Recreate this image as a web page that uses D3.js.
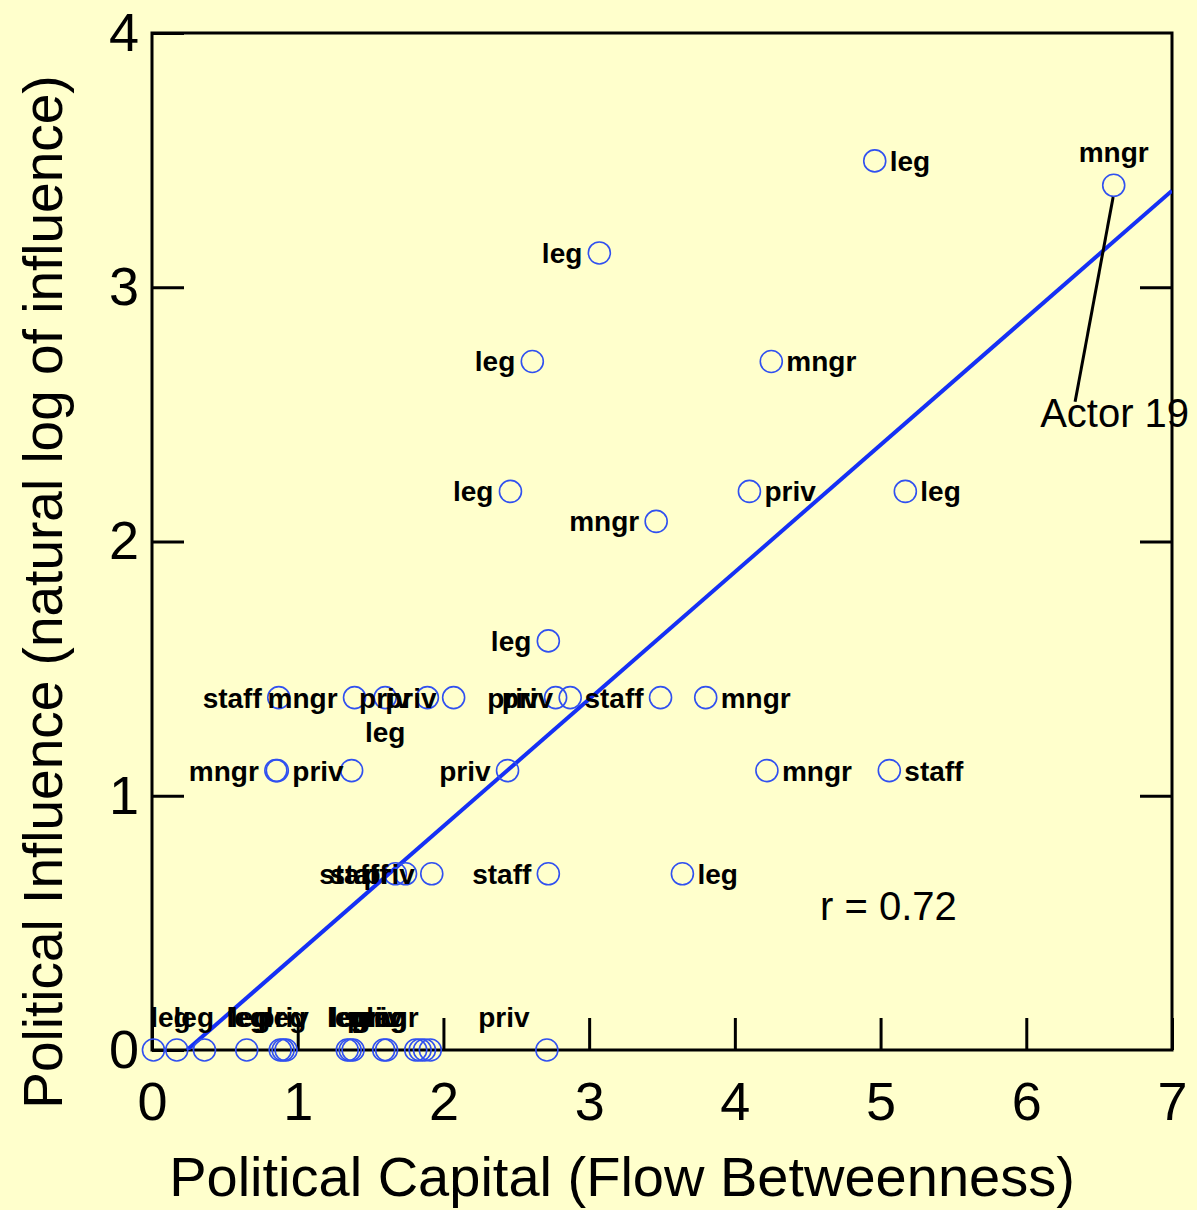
<!DOCTYPE html>
<html>
<head>
<meta charset="utf-8">
<script src="https://cdn.jsdelivr.net/npm/d3@7"></script>
<style>
  body { margin: 0; background: #ffffcc; }
  svg { display: block; font-family: "Liberation Sans", Arial, sans-serif; }
</style>
</head>
<body>
<svg id="chart"></svg>
<script>
var xTicks = [0, 1, 2, 3, 4, 5, 6, 7];
var yTicks = [0, 1, 2, 3, 4];

// betweenness, ln(influence), role, label side
var capital   = [4.96, 6.60, 3.07, 2.61, 4.25, 2.46, 4.10, 5.17, 3.46, 2.72,
                 0.87, 1.39, 1.60, 1.89, 2.07, 2.77, 2.87, 3.49, 3.80,
                 0.85, 0.86, 1.37, 2.44, 4.22, 5.06,
                 1.67, 1.74, 1.92, 2.72, 3.64,
                 0.01, 0.17, 0.36, 0.65, 0.88, 0.90, 0.92, 1.34, 1.36, 1.38,
                 1.59, 1.61, 1.81, 1.84, 1.87, 1.91, 2.71];
var influence = [3.497, 3.401, 3.135, 2.708, 2.708, 2.197, 2.197, 2.197, 2.079, 1.609,
                 1.386, 1.386, 1.386, 1.386, 1.386, 1.386, 1.386, 1.386, 1.386,
                 1.099, 1.099, 1.099, 1.099, 1.099, 1.099,
                 0.693, 0.693, 0.693, 0.693, 0.693,
                 0, 0, 0, 0, 0, 0, 0, 0, 0, 0,
                 0, 0, 0, 0, 0, 0, 0];
var role      = ["leg", "mngr", "leg", "leg", "mngr", "leg", "priv", "leg", "mngr", "leg",
                 "staff", "mngr", "leg", "priv", "priv", "priv", "priv", "staff", "mngr",
                 "mngr", "priv", "priv", "priv", "mngr", "staff",
                 "staff", "staff", "priv", "staff", "leg",
                 "leg", "leg", "leg", "leg", "leg", "priv", "leg", "leg", "leg", "staff",
                 "mngr", "leg", "priv", "priv", "leg", "leg", "priv"];
var side      = ["R", "T", "L", "L", "R", "L", "R", "R", "L", "L",
                 "L", "L", "B", "L", "L", "L", "L", "L", "R",
                 "L", "R", "", "L", "R", "R",
                 "L", "L", "L", "L", "R",
                 "TR", "TR", "", "T", "TL2", "T", "T", "T", "T", "",
                 "T", "T", "TL", "TL", "", "", "TL"];

var fitLine = [[0.24, 0], [7, 3.38]];
var rText = "r = 0.72";
var rPos = [4.585, 0.51];
var actorText = "Actor 19";
var actorPos = [6.095, 2.45];
var actorLeader = [[6.596, 3.355], [6.335, 2.55]];

var W = 1197, H = 1210;
var m = { left: 152, right: 25, top: 33, bottom: 160 };

var svg = d3.select("#chart").attr("width", W).attr("height", H);
svg.append("rect").attr("width", W).attr("height", H).attr("fill", "#ffffcc");

var x = d3.scaleLinear().domain([0, 7]).range([m.left, W - m.right]);
var y = d3.scaleLinear().domain([0, 4]).range([H - m.bottom, m.top]);

// Axes (inward ticks)
var gX = svg.append("g")
    .attr("transform", "translate(0," + y(0) + ")")
    .call(d3.axisBottom(x).tickValues(xTicks).tickSize(-32).tickPadding(32).tickFormat(d3.format("d")));
var gY = svg.append("g")
    .attr("transform", "translate(" + x(0) + ",0)")
    .call(d3.axisLeft(y).tickValues(yTicks).tickSize(-32).tickPadding(13).tickFormat(d3.format("d")));
var gR = svg.append("g")
    .attr("transform", "translate(" + x(7) + ",0)")
    .call(d3.axisRight(y).tickValues([1, 2, 3]).tickSize(-32).tickFormat(""));

[gX, gY, gR].forEach(function (g) {
    g.select(".domain").remove();
    g.selectAll(".tick line").attr("stroke", "#000").attr("stroke-width", 3);
    g.selectAll(".tick text").attr("fill", "#000").style("font-size", "54px");
});

svg.append("rect")
    .attr("x", x(0)).attr("y", y(4))
    .attr("width", x(7) - x(0)).attr("height", y(0) - y(4))
    .attr("fill", "none").attr("stroke", "#000").attr("stroke-width", 3);

// Axis titles
svg.append("text")
    .attr("x", (x(0) + x(7)) / 2 - 40).attr("y", 1196)
    .attr("text-anchor", "middle").style("font-size", "56px")
    .text("Political Capital (Flow Betweenness)");
svg.append("text")
    .attr("transform", "translate(62,592) rotate(-90)")
    .attr("text-anchor", "middle").style("font-size", "55px")
    .text("Political Influence (natural log of influence)");

// Fit line
svg.append("clipPath").attr("id", "plot").append("rect")
    .attr("x", x(0)).attr("y", y(4)).attr("width", x(7) - x(0)).attr("height", y(0) - y(4));
svg.append("path")
    .attr("clip-path", "url(#plot)")
    .attr("d", d3.line().x(function (d) { return x(d[0]); }).y(function (d) { return y(d[1]); })(fitLine))
    .attr("stroke", "#1530f5").attr("stroke-width", 4).attr("fill", "none");

// Points
var pts = capital.map(function (c, i) {
    return { x: c, y: influence[i], role: role[i], side: side[i] };
});

svg.append("g").selectAll("circle").data(pts).join("circle")
    .attr("cx", function (d) { return x(d.x); })
    .attr("cy", function (d) { return y(d.y); })
    .attr("r", 11)
    .attr("fill", "none").attr("stroke", "#3050f0").attr("stroke-width", 1.6);

// Labels
var place = {
    L:   { dx: -17, dy: 10, anchor: "end" },
    R:   { dx: 15,  dy: 10, anchor: "start" },
    T:   { dx: 0,   dy: -23, anchor: "middle" },
    TR:  { dx: 17,  dy: -23, anchor: "middle" },
    TL:  { dx: -43, dy: -23, anchor: "middle" },
    TL2: { dx: -30, dy: -23, anchor: "middle" },
    B:   { dx: 0,   dy: 44, anchor: "middle" }
};
svg.append("g").selectAll("text").data(pts.filter(function (d) { return d.side; })).join("text")
    .attr("x", function (d) { return x(d.x) + place[d.side].dx; })
    .attr("y", function (d) { return y(d.y) + place[d.side].dy; })
    .attr("text-anchor", function (d) { return place[d.side].anchor; })
    .style("font-size", "28px").style("font-weight", "bold")
    .text(function (d) { return d.role; });

// Actor 19 callout
svg.append("line")
    .attr("x1", x(actorLeader[0][0])).attr("y1", y(actorLeader[0][1]))
    .attr("x2", x(actorLeader[1][0])).attr("y2", y(actorLeader[1][1]))
    .attr("stroke", "#000").attr("stroke-width", 3);
svg.append("text")
    .attr("x", x(actorPos[0])).attr("y", y(actorPos[1]))
    .style("font-size", "40px").text(actorText);

svg.append("text")
    .attr("x", x(rPos[0])).attr("y", y(rPos[1]))
    .style("font-size", "40px").text(rText);
</script>
</body>
</html>
